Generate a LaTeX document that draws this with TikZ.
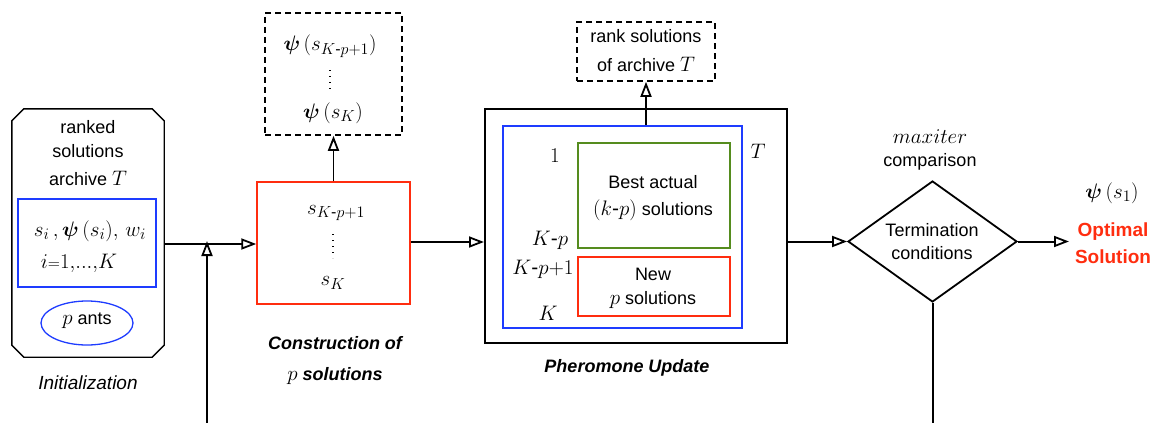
\RequirePackage{fix-cm}
\documentclass[tikz,border=0pt]{standalone}
\usepackage{amsmath,amssymb}
\usepackage{fontspec}
\setmainfont{Liberation Sans}
\DeclareMathSizes{21}{21}{16}{12}
\usetikzlibrary{arrows.meta,shapes.geometric}
\definecolor{myred}{RGB}{255,45,15}
\definecolor{myblue}{RGB}{30,60,255}
\definecolor{mygreen}{RGB}{85,140,30}
\newcommand{\bpsi}{\boldsymbol{\psi}}
\newcommand{\hy}{\text{-}}
\newcommand{\M}[1]{{\fontsize{21}{25}\selectfont$#1$}}
\tikzset{
  box/.style={draw, inner sep=0pt, line width=1.5pt},
  dbox/.style={draw, inner sep=0pt, line width=1.6pt, dash pattern=on 6pt off 4pt},
  lbl/.style={inner sep=0pt, font=\fontsize{18}{23}\selectfont, align=center},
  mlbl/.style={inner sep=0pt, font=\fontsize{21}{25}\selectfont, align=center},
  arr/.style={line width=2pt, -{Triangle[open, length=15pt, width=11pt, line width=1.8pt]}},
  ln/.style={line width=2pt},
  vdot/.style={line width=1.3pt, dash pattern=on 1.3pt off 4.7pt}
}
\begin{document}
\begin{tikzpicture}[x=1pt,y=-1pt]
\useasboundingbox (0,0) rectangle (1163,423);
% Initialization
\node[inner sep=0pt, minimum width=152pt, minimum height=248pt] (init) at (88,233) {};
\draw[line width=1.4pt] ([xshift=12pt]init.north west) -- ([xshift=-12pt]init.north east) -- ([yshift=-12pt]init.north east) -- ([yshift=12pt]init.south east) -- ([xshift=-12pt]init.south east) -- ([xshift=12pt]init.south west) -- ([yshift=12pt]init.south west) -- ([yshift=-12pt]init.north west) -- cycle;
\node[lbl] (rk1) at (88,127) {ranked};
\node[lbl] (rk2) at (88,151) {solutions};
\node[lbl] (rk3) at (88,178) {archive \M{T}};
\node[box, draw=myblue, line width=1.3pt, minimum width=138pt, minimum height=88pt] (arch) at (87,243) {};
\node[mlbl] (arch1) at (90,231) {$s_i\,,\bpsi\,(s_i),\,w_i$};
\node[mlbl] (arch2) at (79,263) {$i{\scriptstyle=}1,\!...,\!K$};
\node[box, ellipse, draw=myblue, line width=1.3pt, minimum width=92pt, minimum height=44pt] (ants) at (87,323) {};
\node[lbl] (antst) at (87,321) {\M{p} ants};
\node[lbl, font=\fontsize{19}{23}\selectfont\itshape] (initt) at (88,383) {Initialization};
% Construction
\node[box, draw=myred, minimum width=153pt, minimum height=122pt] (constr) at (333.5,243) {};
\node[mlbl] (c1) at (336,213) {$s_{K\hy p+1}$};
\node[mlbl] (c3) at (333,283) {$s_K$};
\draw[vdot] (333,234) -- (333,258);
\node[dbox, minimum width=137pt, minimum height=122pt] (psib) at (333.5,74) {};
\node[mlbl] (p1) at (330,46) {$\bpsi\,(s_{K\hy p+1})$};
\draw[vdot] (330,70) -- (330,92);
\node[mlbl] (p3) at (333,113) {$\bpsi\,(s_K)$};
\node[lbl, font=\fontsize{18}{23}\selectfont\bfseries\itshape] (ct1) at (335,343) {Construction of};
\node[lbl, font=\fontsize{18}{23}\selectfont\bfseries\itshape] (ct2) at (335,376) {\M{p} solutions};
% Pheromone update
\node[box, line width=2pt, minimum width=302pt, minimum height=234pt] (pher) at (636,226) {};
\node[box, draw=myblue, line width=2.6pt, minimum width=239pt, minimum height=202pt] (blueT) at (622.5,227) {};
\node[box, draw=mygreen, line width=1.8pt, minimum width=152pt, minimum height=105pt] (best) at (654,195.5) {};
\node[box, draw=myred, line width=1.8pt, minimum width=152pt, minimum height=59pt] (new) at (654,286.5) {};
\node[mlbl] (tT) at (758,151) {$T$};
\node[mlbl] (n1) at (555,156) {$1$};
\node[mlbl] (n2) at (550,240) {$K\hy p$};
\node[mlbl] (n3) at (543,269) {$K\hy p{+}1$};
\node[mlbl] (n4) at (548,313) {$K$};
\node[lbl] (b1) at (653,182) {Best actual};
\node[lbl] (b2) at (653,210) {\M{(k\hy p)} solutions};
\node[lbl] (w1) at (653,274) {New};
\node[lbl] (w2) at (653,300) {\M{p} solutions};
\node[dbox, minimum width=138pt, minimum height=59pt] (rank) at (646,51.5) {};
\node[lbl] (r1) at (646,36) {rank solutions};
\node[lbl] (r2) at (646,64) {of archive \M{T}};
\node[lbl, font=\fontsize{18}{23}\selectfont\bfseries\itshape] (pht) at (627,368) {Pheromone Update};
% Termination
\node[box, diamond, line width=1.8pt, minimum width=169pt, minimum height=121pt] (diam) at (932.5,241.5) {};
\node[lbl] (dt) at (932,241.5) {Termination\\conditions};
\node[mlbl] (mx) at (930,137) {$maxiter$};
\node[lbl] (cmp) at (930,162) {comparison};
\node[mlbl] (ps1) at (1112,193) {$\bpsi\,(s_1)$};
\node[lbl, font=\fontsize{19}{27}\selectfont\bfseries, text=myred] (opt) at (1113,243) {Optimal\\Solution};
% Connectors
\coordinate (j) at (207,244);
\coordinate (bot1) at (207,423);
\coordinate (bot2) at (932.5,423);
\coordinate (optin) at (1069,241.5);
\draw[arr] (init.east |- j) -- (constr.west |- j);
\draw[arr] (bot1) -- ([yshift=3pt]j);
\draw[arr, line width=1.5pt] (constr.north) -- (psib.south);
\draw[arr] (constr.east |- 0,242) -- (pher.west |- 0,242);
\draw[arr, line width=1.5pt] (rank.south |- blueT.north) -- (rank.south);
\draw[arr] (pher.east |- diam.west) -- (diam.west);
\draw[arr] (diam.east) -- (optin);
\draw[ln] (diam.south) -- (bot2);
\end{tikzpicture}
\end{document}
